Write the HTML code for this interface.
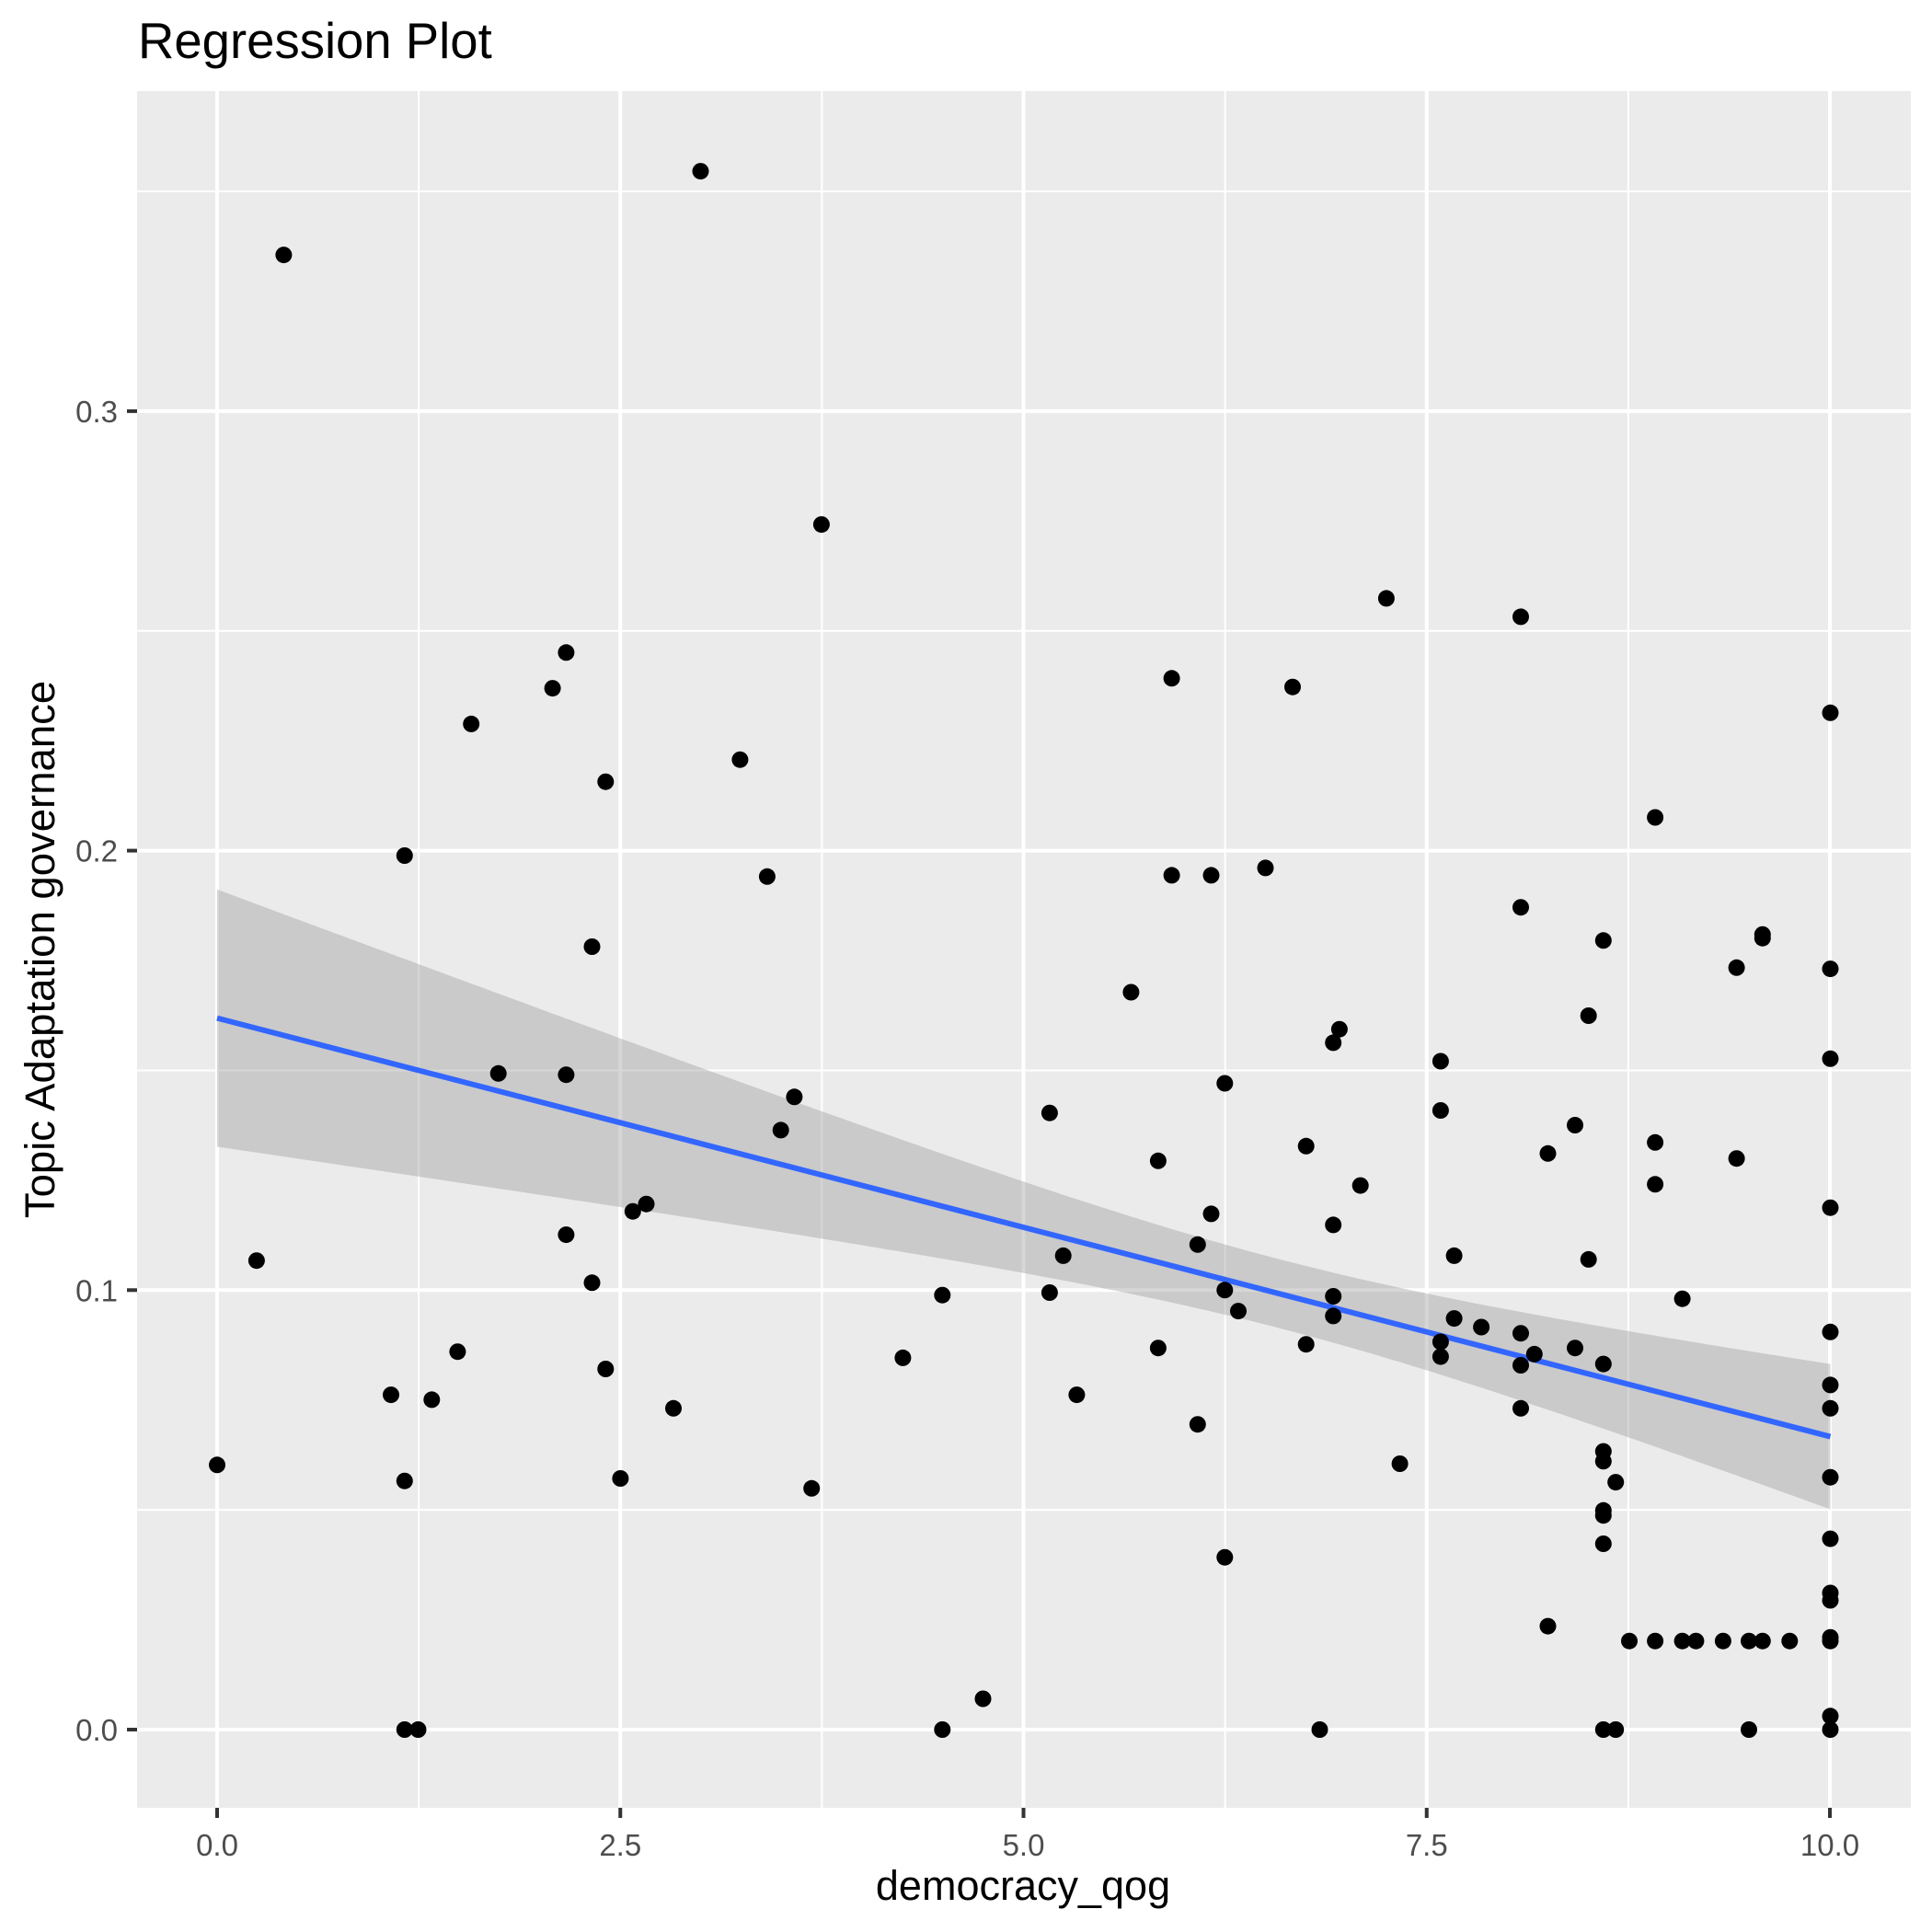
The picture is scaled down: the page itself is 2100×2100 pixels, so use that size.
<!DOCTYPE html>
<html><head><meta charset="utf-8"><style>
html,body{margin:0;padding:0;background:#fff}
svg{display:block}
text{font-family:"Liberation Sans",Arial,sans-serif}
</style></head><body>
<svg id="s" width="2100" height="2100" viewBox="0 0 2100 2100" xmlns="http://www.w3.org/2000/svg">
<rect x="0" y="0" width="2100" height="2100" fill="#fff"/>
<rect x="149" y="99" width="1928" height="1866" fill="#EBEBEB"/>
<g id="grid"></g>
<g id="band"></g>
<g id="pts"></g>
<g id="axes"></g>
<text x="150" y="63" font-size="54.5" fill="#000">Regression Plot</text>
<text x="1112" y="2065" font-size="45" text-anchor="middle" fill="#000">democracy_qog</text>
<text transform="translate(59,1032) rotate(-90)" font-size="45.5" text-anchor="middle" fill="#000">Topic Adaptation governance</text>
</svg>
<script>
var NS="http://www.w3.org/2000/svg";
function el(p,t,a,txt){var e=document.createElementNS(NS,t);for(var k in a)e.setAttribute(k,a[k]);if(txt!==undefined)e.textContent=txt;document.getElementById(p).appendChild(e);return e;}
function X(v){return 236+175.3*v;}
function Y(v){return 1880-4777*v;}
for(var v=1.25;v<=11;v+=2.5){var x=X(v);if(x>149&&x<2077)el('grid','line',{x1:x,x2:x,y1:99,y2:1965,stroke:'#fff','stroke-width':2});}
for(var i=-1;i<8;i+=2){var y=Y(i*0.05);if(y>99&&y<1965)el('grid','line',{x1:149,x2:2077,y1:y,y2:y,stroke:'#fff','stroke-width':2});}
[0,2.5,5,7.5,10].forEach(function(v){var x=X(v);el('grid','line',{x1:x,x2:x,y1:99,y2:1965,stroke:'#fff','stroke-width':4});
 el('axes','line',{x1:x,x2:x,y1:1965,y2:1976,stroke:'#333','stroke-width':4});
 el('axes','text',{x:x,y:2017,'font-size':33,'text-anchor':'middle',fill:'#4D4D4D'},v.toFixed(1));});
[0,0.1,0.2,0.3].forEach(function(v){var y=Y(v);el('grid','line',{x1:149,x2:2077,y1:y,y2:y,stroke:'#fff','stroke-width':4});
 el('axes','line',{x1:138,x2:149,y1:y,y2:y,stroke:'#333','stroke-width':4});
 el('axes','text',{x:128,y:y+12,'font-size':33,'text-anchor':'end',fill:'#4D4D4D'},v.toFixed(1));});
function RX(dx){return 236+(dx-177)*1.3406;}
function RY(dy){return 1880-(1403-dy)*1.338;}
var m=1040,a=784,b=0.01361,up=[],lo=[];
for(var dx=177;dx<=1485;dx+=8){var yl=825+340*(dx-177)/1308;var h=Math.sqrt(a+b*(dx-m)*(dx-m));
 up.push(RX(dx).toFixed(1)+','+RY(yl-h).toFixed(1));lo.unshift(RX(dx).toFixed(1)+','+RY(yl+h).toFixed(1));}
(function(){var dx=1485,yl=1165,h=Math.sqrt(a+b*(dx-m)*(dx-m));up.push(RX(dx)+','+RY(yl-h));lo.unshift(RX(dx)+','+RY(yl+h));})();
el('band','polygon',{points:up.concat(lo).join(' '),fill:'#999999','fill-opacity':0.4});
el('band','line',{x1:RX(177),y1:RY(825),x2:RX(1485),y2:RY(1165),stroke:'#3366FF','stroke-width':6});
var P=[[177,1188],[231,205],[209,1022],[569,137],[667,424],[329,693],[460,528],[449,557],[383,586],[492,633],[601,615],[623,710],[481,767],[405,870],[460,871],[645,889],[634,916],[514,982],[525,976],[460,1001],[481,1040],[318,1131],[351,1135],[372,1096],[492,1110],[547,1142],[329,1201],[504,1199],[659,1207],[329,1403],[340,1403],[765,1403],[798,1378],[765,1050],[733,1101],[852,902],[852,1048],[863,1018],[874,1131],[918,804],[940,941],[951,549],[951,709],[983,709],[1027,703],[1049,556],[940,1093],[972,1009],[983,984],[994,878],[994,1046],[1005,1063],[972,1155],[994,1263],[1060,929],[1060,1090],[1071,1403],[1082,845],[1087,834],[1082,993],[1082,1051],[1082,1067],[1104,961],[1125,484],[1136,1187],[1169,860],[1169,900],[1169,1088],[1169,1100],[1180,1018],[1180,1069],[1202,1076],[1234,499],[1234,735],[1234,1081],[1234,1107],[1234,1142],[1245,1098],[1256,935],[1256,1319],[1278,912],[1278,1093],[1289,823],[1289,1021],[1301,762],[1301,1106],[1301,1177],[1301,1185],[1301,1225],[1301,1229],[1301,1252],[1301,1403],[1311,1202],[1311,1403],[1322,1331],[1343,662],[1343,926],[1343,960],[1343,1331],[1365,1053],[1365,1331],[1376,1331],[1398,1331],[1409,784],[1409,939],[1419,1331],[1419,1403],[1430,757],[1430,760],[1430,1331],[1452,1331],[1485,577],[1485,785],[1485,858],[1485,979],[1485,1080],[1485,1123],[1485,1142],[1485,1198],[1485,1248],[1485,1292],[1485,1298],[1485,1328],[1485,1331],[1485,1392],[1485,1403]];
P.forEach(function(p){el('pts','circle',{cx:RX(p[0]).toFixed(1),cy:RY(p[1]).toFixed(1),r:9,fill:'#000'});});
</script>
</body></html>
